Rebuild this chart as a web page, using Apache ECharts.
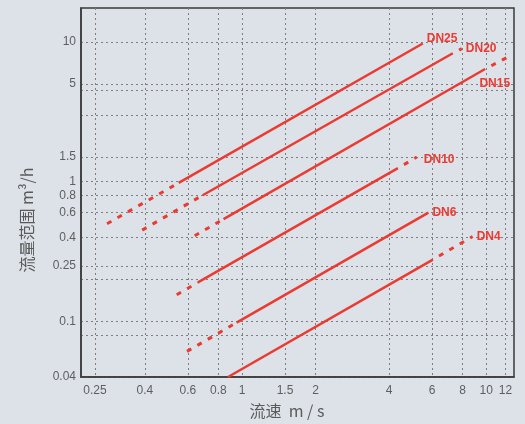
<!DOCTYPE html>
<html>
<head>
<meta charset="utf-8">
<script src="https://cdn.jsdelivr.net/npm/echarts@6/dist/echarts.min.js"></script>
<style>
html,body{margin:0;padding:0;background:#dde2e9;}
#chart{width:525px;height:424px;}
</style>
</head>
<body>
<div id="chart"></div>
<script>
// Pipe sizes
const pipeNames = ['DN25', 'DN20', 'DN15', 'DN10', 'DN6', 'DN4'];
// [velocity m/s, flow m3/h] end points
const dashedLow = [
  [[0.28, 0.50], [0.55, 0.98]],
  [[0.39, 0.45], [0.69, 0.80]],
  [[0.64, 0.41], [0.84, 0.54]],
  [[0.54, 0.155], [0.66, 0.19]],
  [[0.595, 0.061], [0.95, 0.098]],
  null
];
const solidPart = [
  [[0.55, 0.98], [5.5, 9.75]],
  [[0.69, 0.80], [7.3, 8.3]],
  [[0.84, 0.54], [9.9, 6.4]],
  [[0.66, 0.19], [4.35, 1.25]],
  [[0.95, 0.098], [5.8, 0.60]],
  [[0.876, 0.04], [6.05, 0.277]]
];
const dashedHigh = [
  null,
  [[7.3, 8.3], [7.95, 8.95]],
  [[9.9, 6.4], [12.1, 7.7]],
  [[4.35, 1.25], [5.2, 1.5]],
  null,
  [[6.05, 0.277], [8.8, 0.405]]
];
// label offsets relative to end of each pipe's last segment
const labelOffsets = [[0, -5], [0, 0], [-31, 26], [3, 3], [0, 0], [0, 0]];

// Axis ticks
const xTicks = [0.25, 0.4, 0.6, 0.8, 1, 1.5, 2, 4, 6, 8, 10, 12];
const yGrid = [0.04, 0.08, 0.1, 0.2, 0.25, 0.4, 0.6, 0.8, 1, 1.5, 3, 4.5, 5, 10];
const yLabels = [0.04, 0.1, 0.25, 0.4, 0.6, 0.8, 1, 1.5, 5, 10];

const RED = '#ea3a31';
const fmt = v => String(+(+v).toPrecision(3));

const series = [];
pipeNames.forEach((name, i) => {
  const last = dashedHigh[i] ? 'high' : 'solid';
  const endLabel = {
    show: true,
    formatter: name,
    color: RED,
    fontWeight: 'bold',
    fontSize: 12,
    fontFamily: 'Liberation Sans, Arial, sans-serif',
    distance: 4,
    offset: labelOffsets[i]
  };
  if (dashedLow[i]) {
    series.push({
      type: 'line', name: name + ' low', data: dashedLow[i], symbol: 'none', silent: true,
      lineStyle: { color: RED, width: 3, type: [5, 7] }
    });
  }
  series.push({
    type: 'line', name: name, data: solidPart[i], symbol: 'none', silent: true,
    lineStyle: { color: RED, width: 2.5 },
    endLabel: last === 'solid' ? endLabel : { show: false }
  });
  if (dashedHigh[i]) {
    series.push({
      type: 'line', name: name + ' high', data: dashedHigh[i], symbol: 'none', silent: true,
      lineStyle: { color: RED, width: 3, type: [5, 7], dashOffset: 5 },
      endLabel: endLabel
    });
  }
});

const chart = echarts.init(document.getElementById('chart'), null, { renderer: 'canvas' });
chart.setOption({
  backgroundColor: '#dde2e9',
  animation: false,
  grid: {
    left: 81, right: 11, top: 8, bottom: 47,
    show: true, borderColor: '#3a3a3a', borderWidth: 1.5, backgroundColor: 'transparent'
  },
  xAxis: {
    type: 'log', logBase: 10, min: 0.219, max: 13.0,
    axisLine: { show: true, lineStyle: { color: '#3a3a3a', width: 1.5 } },
    axisTick: { show: false, customValues: xTicks },
    axisLabel: {
      customValues: xTicks, formatter: fmt, color: '#5e5e5e', fontSize: 12,
      fontFamily: 'Liberation Sans, Arial, sans-serif', margin: 8
    },
    splitLine: { show: true, lineStyle: { color: '#7e7e7e', width: 1, type: [2, 3] } },
    minorSplitLine: { show: false }
  },
  yAxis: {
    type: 'log', logBase: 10, min: 0.04, max: 17.5,
    axisLine: { show: true, lineStyle: { color: '#3a3a3a', width: 1.5 } },
    axisTick: { show: false, customValues: yGrid },
    axisLabel: {
      customValues: yLabels, formatter: fmt, color: '#5e5e5e', fontSize: 12,
      fontFamily: 'Liberation Sans, Arial, sans-serif', margin: 5
    },
    splitLine: { show: true, lineStyle: { color: '#7e7e7e', width: 1, type: [2, 3] } },
    minorSplitLine: { show: false }
  },
  graphic: [
    {
      type: 'text', x: 27, y: 220, rotation: Math.PI / 2,
      style: {
        text: '流量范围 m³/h', fill: '#5a5a5a', fontSize: 16,
        fontFamily: 'Noto Sans CJK SC, sans-serif', align: 'center', verticalAlign: 'middle'
      }
    },
    {
      type: 'text', x: 287, y: 411,
      style: {
        text: '流速  m / s', fill: '#5a5a5a', fontSize: 16,
        fontFamily: 'Noto Sans CJK SC, sans-serif', align: 'center', verticalAlign: 'middle'
      }
    }
  ],
  series: series
});
</script>
</body>
</html>
